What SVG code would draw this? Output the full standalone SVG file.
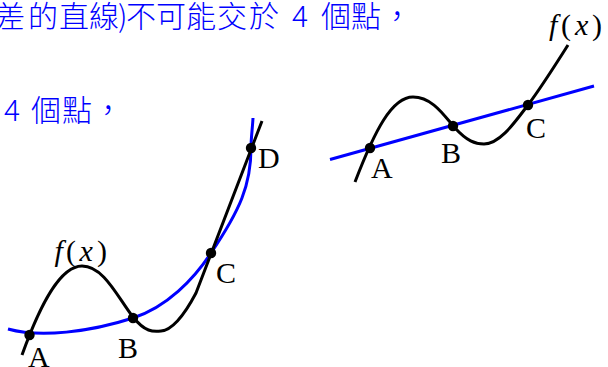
<svg xmlns="http://www.w3.org/2000/svg" width="608" height="367" viewBox="0 0 608 367">
<style>
.cjk{font-family:"Noto Sans CJK TC","Noto Sans CJK SC",sans-serif;font-size:30px;font-weight:300;fill:#0000ff}
.lbl{font-family:"Liberation Serif","Times New Roman",serif;font-size:30px;fill:#000}
.it{font-style:italic}
.blk{fill:none;stroke:#000;stroke-width:3;stroke-linecap:butt;stroke-linejoin:round}
.blu{fill:none;stroke:#0000ff;stroke-width:3}
.dot{fill:#000}
</style>
<rect width="608" height="367" fill="#fff"/>
<g id="text">
<text class="cjk" x="-5 28 59 89 118 126 156 186 217 249" y="27">差的直線)不可能交於</text>
<text class="cjk" x="292" y="27">4</text>
<text class="cjk" x="321 351 382" y="27">個點，</text>
<text class="cjk" x="4" y="121">4</text>
<text class="cjk" x="31 62 93" y="121">個點，</text>
</g>
<g id="left-graph">
<path class="blu" d="M8,329 C40,338 90,332 133,318 C167,307 194,279 211,253 C240,210 251,185 251,148 C251,138 252.5,128 253,118"/>
<path class="blk" d="M22,355 C40,305 60,266 82,266 C104,266 118,298 133,317 C145,332 153,332 161,331 C174,330 187,310 196,293 L262,121"/>
<circle class="dot" cx="29.5" cy="335" r="5.2"/>
<circle class="dot" cx="133" cy="318" r="5.2"/>
<circle class="dot" cx="211" cy="253" r="5.2"/>
<circle class="dot" cx="251" cy="148" r="5.2"/>
<text class="lbl" x="28" y="367">A</text>
<text class="lbl" x="118" y="358">B</text>
<text class="lbl" x="216" y="283">C</text>
<text class="lbl" x="258" y="168">D</text>
<text class="lbl" y="261"><tspan class="it" x="54.5">f</tspan><tspan x="66">(</tspan><tspan class="it" x="79.5">x</tspan><tspan x="97">)</tspan></text>
</g>
<g id="right-graph">
<path class="blu" d="M330,159.5 L594,86"/>
<path class="blk" d="M355,182 C375,130 392,97 413,97 C433,97 445,117 455,128 C467,141 475,144 484,144 C500,144 515,122 528,105 C540,89 556,64 568,45"/>
<circle class="dot" cx="370" cy="148" r="5.2"/>
<circle class="dot" cx="453" cy="126" r="5.2"/>
<circle class="dot" cx="528" cy="105" r="5.2"/>
<text class="lbl" x="371" y="178">A</text>
<text class="lbl" x="441" y="163">B</text>
<text class="lbl" x="526" y="138">C</text>
<text class="lbl" y="35"><tspan class="it" x="549">f</tspan><tspan x="561">(</tspan><tspan class="it" x="575">x</tspan><tspan x="592">)</tspan></text>
</g>
</svg>
